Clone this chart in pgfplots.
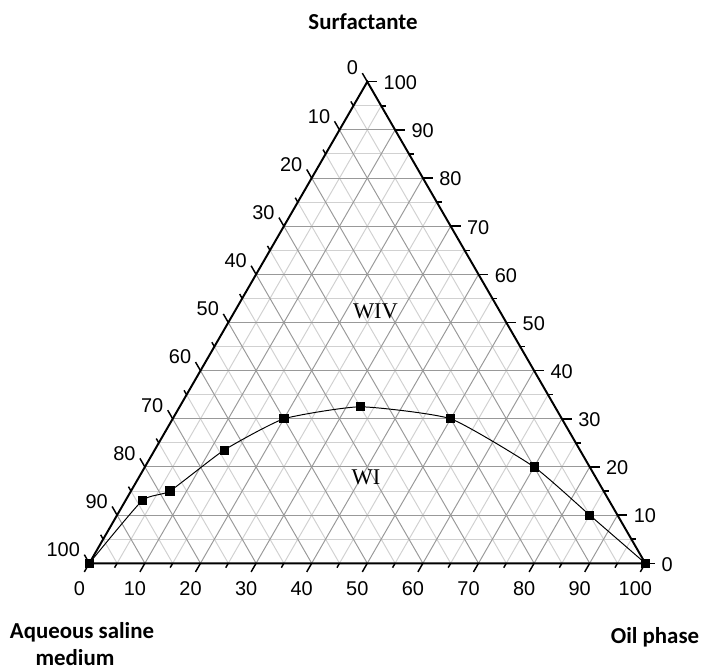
\documentclass[border=0pt]{standalone}
\usepackage{pgfplots}
\pgfplotsset{compat=1.18}
\usepackage{pgfplotstable}
\usepackage{fontspec}
\setmainfont{Liberation Sans}
\newfontfamily\calibri{Carlito}
\newfontfamily\tnr{Liberation Serif}
\newcommand\ticklab{\fontsize{10.2}{12}\selectfont}
\newcommand\titlefont{\calibri\bfseries\fontsize{11.7}{14}\selectfont}
% ternary data: aqueous saline medium, oil phase, surfactante (%)
\pgfplotstableread{
aq   oil   surf
100  0     0
84   3     13
78   7     15
64   12.5  23.5
50   20    30
35   32.5  32.5
20   50    30
10   70    20
5    85    10
0    100   0
}\curve
\begin{document}
\begin{tikzpicture}
\begin{axis}[x=0.1cm, y=0.1cm,
  xmin=-16.06, xmax=110.02, ymin=-18.83, ymax=101.31,
  hide axis, clip=false]
\path (axis cs:-16.06,-18.83) rectangle (axis cs:110.02,101.31);
% minor grid (every 5)
\pgfplotsinvokeforeach{5,15,...,95}{
  \draw[black!18, line width=0.5pt] (axis cs:{#1/2},{#1*0.8660254}) -- (axis cs:{100-#1/2},{#1*0.8660254});
  \draw[black!18, line width=0.5pt] (axis cs:#1,0) -- (axis cs:{50+#1/2},{(100-#1)*0.8660254});
  \draw[black!18, line width=0.5pt] (axis cs:{100-#1},0) -- (axis cs:{(100-#1)/2},{(100-#1)*0.8660254});
}
% major grid (every 10)
\pgfplotsinvokeforeach{10,20,...,90}{
  \draw[black!40, line width=0.5pt] (axis cs:{#1/2},{#1*0.8660254}) -- (axis cs:{100-#1/2},{#1*0.8660254});
  \draw[black!40, line width=0.5pt] (axis cs:#1,0) -- (axis cs:{50+#1/2},{(100-#1)*0.8660254});
  \draw[black!40, line width=0.5pt] (axis cs:{100-#1},0) -- (axis cs:{(100-#1)/2},{(100-#1)*0.8660254});
}
% triangle
\draw[black, line width=1pt, line join=miter] (axis cs:0,0) -- (axis cs:100,0) -- (axis cs:50,86.60254) -- cycle;
% major ticks and labels
\pgfplotsinvokeforeach{0,10,...,100}{
  \draw[black, line width=0.75pt] (axis cs:#1,0) -- ++(-2.55pt,-4.42pt);
  \draw[black, line width=0.75pt] (axis cs:{100-#1/2},{#1*0.8660254}) -- ++(5.1pt,0pt);
  \draw[black, line width=0.75pt] (axis cs:{(100-#1)/2},{(100-#1)*0.8660254}) -- ++(-2.55pt,4.42pt);
  \node[anchor=center, inner sep=0pt, xshift=-5.1pt, yshift=-12.8pt, font=\ticklab] at (axis cs:#1,0) {#1};
  \node[anchor=west, inner sep=0pt, xshift=8.2pt, yshift=-0.5pt, font=\ticklab] at (axis cs:{100-#1/2},{#1*0.8660254}) {#1};
  \node[anchor=east, inner sep=0pt, xshift=-4.6pt, yshift=7pt, font=\ticklab] at (axis cs:{(100-#1)/2},{(100-#1)*0.8660254}) {#1};
}
% minor ticks
\pgfplotsinvokeforeach{5,15,...,95}{
  \draw[black, line width=0.75pt] (axis cs:#1,0) -- ++(-1.3pt,-2.25pt);
  \draw[black, line width=0.75pt] (axis cs:{100-#1/2},{#1*0.8660254}) -- ++(2.6pt,0pt);
  \draw[black, line width=0.75pt] (axis cs:{(100-#1)/2},{(100-#1)*0.8660254}) -- ++(-1.3pt,2.25pt);
}
% data
\addplot[black, line width=0.5pt, smooth, tension=0.3, mark=square*, mark size=2.1pt, mark options={solid}]
  table[x expr=\thisrow{oil}+0.5*\thisrow{surf}, y expr=0.8660254*\thisrow{surf}] {\curve};
% texts
\node[font=\titlefont, anchor=base, inner sep=0pt] at (axis cs:49.23,95.92) {Surfactante};
\node[font=\titlefont, anchor=base, inner sep=0pt] at (axis cs:-1.31,-13.6) {Aqueous saline};
\node[font=\titlefont, anchor=base, inner sep=0pt] at (axis cs:-2.57,-18.3) {medium};
\node[font=\titlefont, anchor=base, inner sep=0pt] at (axis cs:101.74,-14.39) {Oil phase};
\node[font=\tnr\fontsize{11.5}{13}\selectfont, anchor=base, inner sep=0pt] at (axis cs:51.47,43.94) {WIV};
\node[font=\tnr\fontsize{11.5}{13}\selectfont, anchor=base, inner sep=0pt] at (axis cs:49.77,14.08) {WI};
\end{axis}
\end{tikzpicture}
\end{document}
